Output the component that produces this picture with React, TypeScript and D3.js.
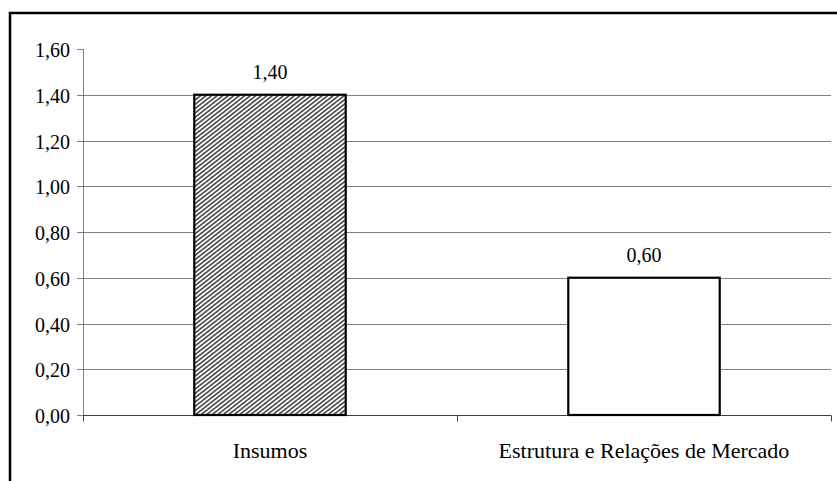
import * as d3 from "d3";
import { useEffect, useRef } from "react";

const categories = ["Insumos", "Estrutura e Relações de Mercado"];
const values = [1.4, 0.6];
const yTicks = [0, 0.2, 0.4, 0.6, 0.8, 1.0, 1.2, 1.4, 1.6];

const fmt = (v: number) => v.toFixed(2).replace(".", ",");
const serif = "Liberation Serif, DejaVu Serif, Tinos, Times, serif";

const App = () => {
  const svgRef = useRef<SVGSVGElement>(null);

  useEffect(() => {
    if (!svgRef.current) return;
    const svg = d3.select(svgRef.current);
    svg.selectAll("*").remove();

    const width = 837;
    const height = 481;
    const margin = { top: 49, right: 6, bottom: 66, left: 83 };

    // hatch pattern for first bar
    const defs = svg.append("defs");
    const pat = defs
      .append("pattern")
      .attr("id", "hatch")
      .attr("patternUnits", "userSpaceOnUse")
      .attr("width", 3.4)
      .attr("height", 3.4)
      .attr("patternTransform", "rotate(-38)");
    pat.append("rect").attr("width", 3.4).attr("height", 3.4).attr("fill", "#fff");
    pat
      .append("line")
      .attr("x1", 0)
      .attr("y1", 1.7)
      .attr("x2", 3.4)
      .attr("y2", 1.7)
      .attr("stroke", "#1a1a1a")
      .attr("stroke-width", 1.3);

    svg.append("rect").attr("width", width).attr("height", height).attr("fill", "#fff");

    // outer frame (only left and top visible)
    svg
      .append("path")
      .attr("d", `M10,${height} V13 H${width}`)
      .attr("fill", "none")
      .attr("stroke", "#000")
      .attr("stroke-width", 2.5);

    const x = d3
      .scaleBand()
      .domain(categories)
      .range([margin.left, width - margin.right])
      .paddingInner(0)
      .paddingOuter(0);

    const y = d3
      .scaleLinear()
      .domain([0, 1.6])
      .range([height - margin.bottom, margin.top]);

    const g = svg.append("g").attr("font-family", serif);

    // gridlines
    yTicks.slice(1, -1).forEach((t) => {
      g.append("line")
        .attr("x1", margin.left)
        .attr("x2", width - margin.right)
        .attr("y1", Math.round(y(t)) + 0.5)
        .attr("y2", Math.round(y(t)) + 0.5)
        .attr("stroke", "#808080")
        .attr("stroke-width", 1);
    });

    // y axis
    g.append("line")
      .attr("x1", margin.left + 0.5)
      .attr("x2", margin.left + 0.5)
      .attr("y1", y(1.6))
      .attr("y2", y(0) + 5)
      .attr("stroke", "#808080");

    yTicks.forEach((t) => {
      const yy = Math.round(y(t)) + 0.5;
      g.append("line")
        .attr("x1", margin.left - 6)
        .attr("x2", margin.left)
        .attr("y1", yy)
        .attr("y2", yy)
        .attr("stroke", "#808080");
      g.append("text")
        .attr("x", margin.left - 13)
        .attr("y", yy)
        .attr("dy", "0.35em")
        .attr("text-anchor", "end")
        .attr("font-size", 20)
        .attr("fill", "#000")
        .text(fmt(t));
    });

    // x axis
    const x0 = Math.round(y(0)) + 0.5;
    g.append("line")
      .attr("x1", margin.left)
      .attr("x2", width - margin.right)
      .attr("y1", x0)
      .attr("y2", x0)
      .attr("stroke", "#404040");
    [margin.left, ...categories.map((c) => (x(c) ?? 0) + x.bandwidth())].forEach((px) => {
      g.append("line")
        .attr("x1", Math.round(px) + 0.5)
        .attr("x2", Math.round(px) + 0.5)
        .attr("y1", x0)
        .attr("y2", x0 + 6)
        .attr("stroke", "#404040");
    });

    const barW = x.bandwidth() * 0.405;

    categories.forEach((c, i) => {
      const cx = (x(c) ?? 0) + x.bandwidth() / 2;
      g.append("rect")
        .attr("x", cx - barW / 2)
        .attr("y", y(values[i]))
        .attr("width", barW)
        .attr("height", y(0) - y(values[i]))
        .attr("fill", i === 0 ? "url(#hatch)" : "#fff")
        .attr("stroke", "#000")
        .attr("stroke-width", 2.2);

      g.append("text")
        .attr("x", cx)
        .attr("y", y(values[i]) - 16)
        .attr("text-anchor", "middle")
        .attr("font-size", 20)
        .attr("fill", "#000")
        .text(fmt(values[i]));

      g.append("text")
        .attr("x", cx)
        .attr("y", y(0) + 43)
        .attr("text-anchor", "middle")
        .attr("font-size", 22)
        .attr("fill", "#000")
        .text(c);
    });
  }, []);

  return (
    <div style={{ position: "absolute", left: 0, top: 0, width: 837, height: 481 }}>
      <svg ref={svgRef} width={837} height={481} style={{ display: "block" }} />
    </div>
  );
};

export default App;
